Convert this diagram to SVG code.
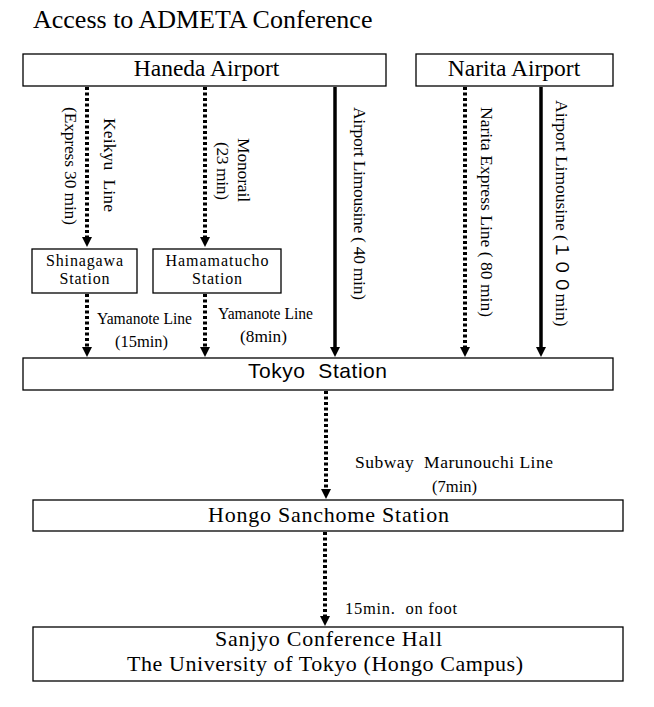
<svg xmlns="http://www.w3.org/2000/svg" width="654" height="707" viewBox="0 0 654 707">
<style>
text{font-family:"Liberation Serif","Times New Roman",serif;fill:#000}
.box{fill:#fff;stroke:#000;stroke-width:1.3}
.dot{stroke:#000;stroke-width:4;stroke-dasharray:3 2.5;fill:none}
.sol{stroke:#000;stroke-width:3.5;fill:none}
.big{font-size:23.5px;text-anchor:middle}
.mid{font-size:16px;text-anchor:middle}
.lab{font-size:17.5px}
.sm{font-size:16.5px}
</style>
<defs>
<marker id="ah" viewBox="0 -5 10 10" refX="0" refY="0" markerWidth="10" markerHeight="10" markerUnits="userSpaceOnUse" orient="auto">
<path d="M0,-5 L10,0 L0,5 z" fill="#000"/>
</marker>
</defs>
<rect width="654" height="707" fill="#fff"/>
<text x="33" y="28" font-size="26">Access to ADMETA Conference</text>

<g id="connectors">
<line class="dot" x1="87" y1="87" x2="87" y2="237" marker-end="url(#ah)"/>
<line class="dot" x1="205" y1="87" x2="205" y2="237" marker-end="url(#ah)"/>
<line class="sol" x1="335" y1="87" x2="335" y2="347" marker-end="url(#ah)"/>
<line class="dot" x1="465" y1="87" x2="465" y2="347" marker-end="url(#ah)"/>
<line class="sol" x1="541" y1="87" x2="541" y2="347" marker-end="url(#ah)"/>
<line class="dot" x1="87" y1="294" x2="87" y2="347" marker-end="url(#ah)"/>
<line class="dot" x1="205" y1="294" x2="205" y2="347" marker-end="url(#ah)"/>
<line class="dot" x1="326" y1="391" x2="326" y2="489" marker-end="url(#ah)"/>
<line class="dot" x1="325" y1="532" x2="325" y2="616" marker-end="url(#ah)"/>

<text class="lab" transform="translate(104,118) rotate(90)" textLength="94" xml:space="preserve">Keikyu  Line</text>
<text class="lab" transform="translate(65,107) rotate(90)" textLength="118">(Express 30 min)</text>
<text class="lab" transform="translate(238,138) rotate(90)" textLength="64">Monorail</text>
<text class="lab" transform="translate(217,142) rotate(90)" textLength="58">(23 min)</text>
<text class="lab" transform="translate(354,107) rotate(90)" textLength="193">Airport Limousine ( 40 min)</text>
<text class="lab" transform="translate(481,107) rotate(90)" textLength="210">Narita Express Line ( 80 min)</text>
<text class="lab" transform="translate(556,100) rotate(90)">Airport Limousine (<tspan font-family="'Noto Sans CJK JP',sans-serif">１００</tspan>min)</text>

<text class="sm" x="97" y="324" textLength="95" lengthAdjust="spacingAndGlyphs">Yamanote Line</text>
<text class="sm" x="115" y="347" textLength="53" lengthAdjust="spacingAndGlyphs">(15min)</text>
<text class="sm" x="218" y="319" textLength="95" lengthAdjust="spacingAndGlyphs">Yamanote Line</text>
<text class="sm" x="240" y="342" textLength="47" lengthAdjust="spacingAndGlyphs">(8min)</text>
<text class="lab" x="355" y="468" textLength="198" xml:space="preserve">Subway  Marunouchi Line</text>
<text class="lab" x="432" y="492" textLength="45" lengthAdjust="spacingAndGlyphs">(7min)</text>
<text class="sm" x="345" y="614" textLength="112" xml:space="preserve">15min.  on foot</text>
</g>

<g id="haneda">
<rect class="box" x="23" y="54" width="363" height="32"/>
<text class="big" x="206.5" y="76">Haneda Airport</text>
</g>
<g id="narita">
<rect class="box" x="416" y="54" width="197" height="32"/>
<text class="big" x="514" y="76">Narita Airport</text>
</g>
<g id="shinagawa">
<rect class="box" x="32" y="249" width="105" height="44"/>
<text class="mid" x="84.5" y="266" textLength="77">Shinagawa</text>
<text class="mid" x="84.5" y="284" textLength="50">Station</text>
</g>
<g id="hamamatucho">
<rect class="box" x="153" y="249" width="128" height="44"/>
<text class="mid" x="217" y="266" textLength="103">Hamamatucho</text>
<text class="mid" x="217" y="284" textLength="50">Station</text>
</g>
<g id="tokyo">
<rect class="box" x="23" y="358" width="590" height="32"/>
<text x="248" y="378" font-size="21" textLength="139" xml:space="preserve" style="font-family:'Liberation Sans',Arial,sans-serif">Tokyo  Station</text>
</g>
<g id="hongo">
<rect class="box" x="33" y="500" width="590" height="31"/>
<text x="208" y="522" font-size="22" textLength="241">Hongo Sanchome Station</text>
</g>
<g id="sanjyo">
<rect class="box" x="33" y="627" width="590" height="54"/>
<text x="215" y="646" font-size="22" textLength="227">Sanjyo Conference Hall</text>
<text x="127" y="670.5" font-size="22" textLength="396">The University of Tokyo (Hongo Campus)</text>
</g>
</svg>
